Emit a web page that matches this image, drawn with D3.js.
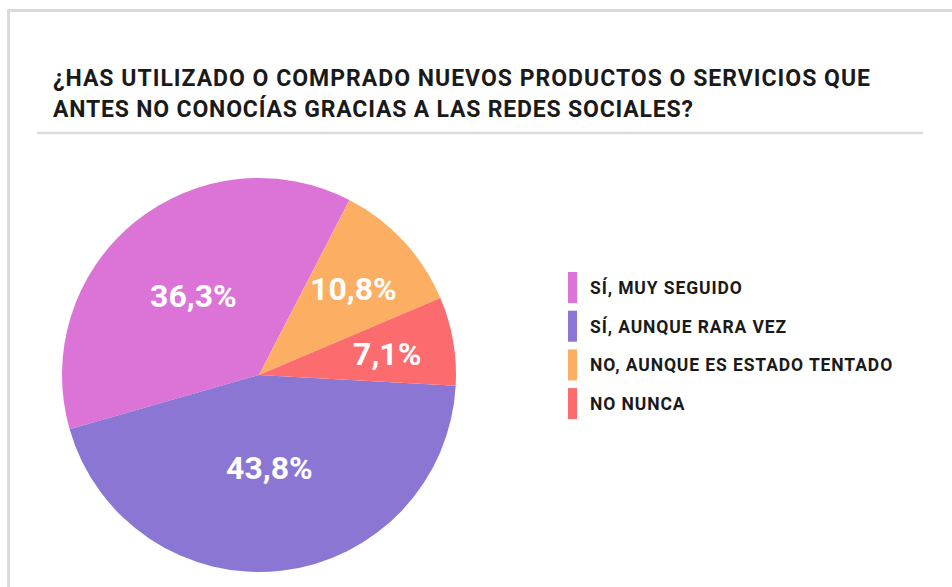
<!DOCTYPE html>
<html>
<head>
<meta charset="utf-8">
<script src="https://cdn.jsdelivr.net/npm/d3@7"></script>
<style>
  body { margin: 0; background: #fff; }
  text { font-family: Roboto, "DejaVu Sans", sans-serif; font-weight: 700; }
</style>
</head>
<body>
<script>
var width = 952, height = 587;

// data, legend order
var categories = ["SÍ, MUY SEGUIDO", "SÍ, AUNQUE RARA VEZ", "NO, AUNQUE ES ESTADO TENTADO", "NO NUNCA"];
var values = [36.3, 43.8, 10.8, 7.1];
var valueLabels = ["36,3%", "43,8%", "10,8%", "7,1%"];
// clockwise drawing order around the pie
var drawOrder = ["SÍ, MUY SEGUIDO", "NO, AUNQUE ES ESTADO TENTADO", "NO NUNCA", "SÍ, AUNQUE RARA VEZ"];
var titleLines = ["¿HAS UTILIZADO O COMPRADO NUEVOS PRODUCTOS O SERVICIOS QUE",
                  "ANTES NO CONOCÍAS GRACIAS A LAS REDES SOCIALES?"];

var colors = d3.scaleOrdinal()
    .domain(categories)
    .range(["#dc74d8", "#8b76d3", "#fcae63", "#fc6b6e"]);

var details = categories.map(function(c, i) {
  return {name: c, value: values[i], label: valueLabels[i]};
});

var svg = d3.select("body").append("svg")
    .attr("width", width).attr("height", height);

// card border
svg.append("rect")
    .attr("x", 8.5).attr("y", 10.5)
    .attr("width", width + 20).attr("height", height + 20)
    .attr("fill", "none").attr("stroke", "#dadada").attr("stroke-width", 3);

// title
var titleWidths = [817, 640];
svg.append("g").selectAll("text").data(titleLines).enter().append("text")
    .attr("x", 53)
    .attr("y", function(d, i) { return 86 + i * 31; })
    .attr("font-size", 23)
    .attr("fill", "#1a1a1a")
    .attr("textLength", function(d, i) { return titleWidths[i]; })
    .attr("lengthAdjust", "spacing")
    .text(function(d) { return d; });

svg.append("line")
    .attr("x1", 37).attr("x2", 923)
    .attr("y1", 133).attr("y2", 133)
    .attr("stroke", "#dcdcdc").attr("stroke-width", 2.5);

// pie
var radius = 197;
var pie = d3.pie()
    .value(function(d) { return d.value; })
    .sort(function(a, b) { return drawOrder.indexOf(a.name) - drawOrder.indexOf(b.name); })
    .startAngle(-106 * Math.PI / 180)
    .endAngle(254 * Math.PI / 180);

var data = pie(details);
var segments = d3.arc().innerRadius(0).outerRadius(radius);

var g = svg.append("g").attr("transform", "translate(259,375)");
g.selectAll("path").data(data).enter().append("path")
    .attr("d", segments)
    .attr("fill", function(d) { return colors(d.data.name); });

// labels at the area centroid of each sector
g.selectAll("text").data(data).enter().append("text")
    .attr("text-anchor", "middle")
    .attr("fill", "#fff")
    .attr("font-size", 32)
    .each(function(d) {
      var theta = d.endAngle - d.startAngle;
      var r = 2 * radius * Math.sin(theta / 2) / (1.5 * theta);
      var mid = (d.startAngle + d.endAngle) / 2;
      d3.select(this)
        .attr("x", r * Math.sin(mid))
        .attr("y", -r * Math.cos(mid) + 12)
        .text(d.data.label);
    });

// legend
var legend = svg.append("g").attr("transform", "translate(568,272)")
    .selectAll(".legends").data(details).enter().append("g")
    .attr("class", "legends")
    .attr("transform", function(d, i) { return "translate(0," + i * 38.7 + ")"; });

legend.append("rect")
    .attr("width", 9).attr("height", 31)
    .attr("fill", function(d) { return colors(d.name); });

legend.append("text")
    .attr("x", 22).attr("y", 22)
    .attr("font-size", 17.5)
    .attr("letter-spacing", 0.9)
    .attr("fill", "#1a1a1a")
    .text(function(d) { return d.name; });
</script>
</body>
</html>
